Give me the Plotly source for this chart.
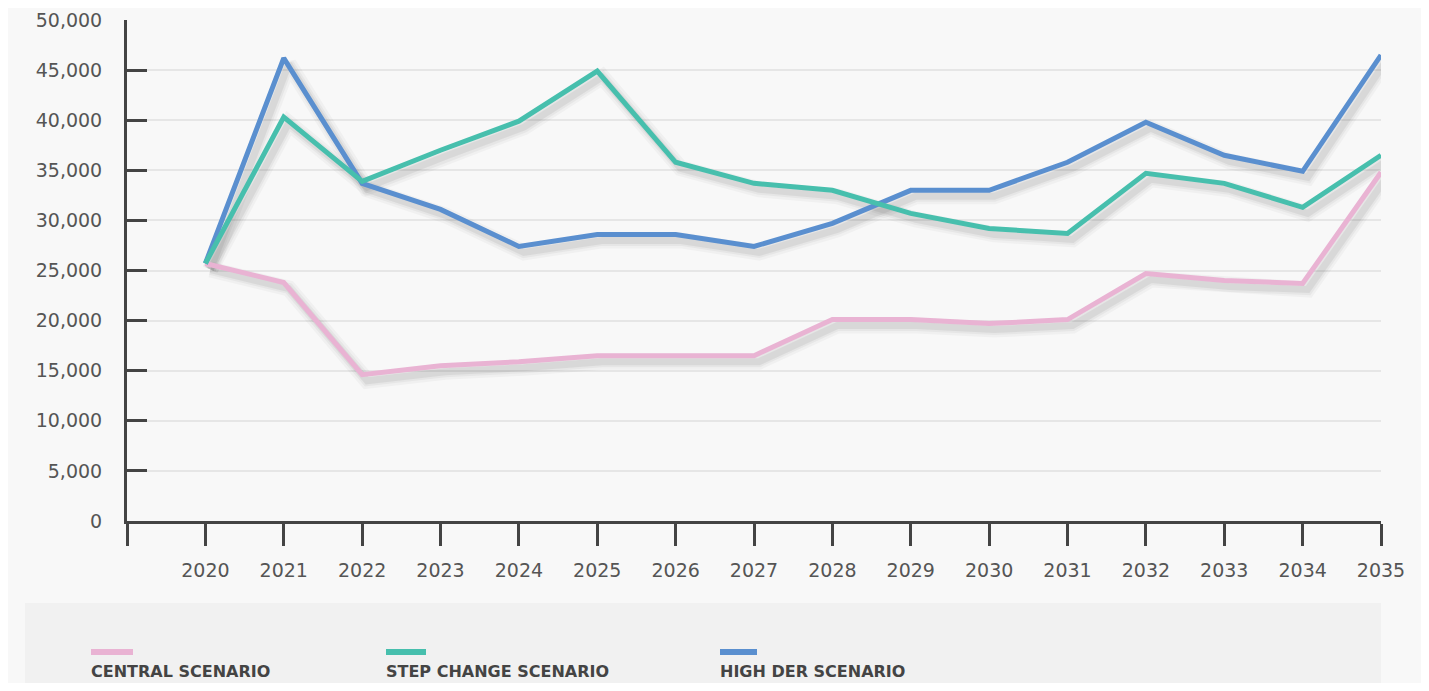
import plotly.graph_objects as go

years = list(range(2020, 2036))
year_labels = [str(y) for y in years]

central = [25700, 23800, 14600, 15500, 15900, 16500, 16500, 16500, 20100, 20100,
           19700, 20100, 24700, 24000, 23700, 34800]
step_change = [25700, 40300, 33900, 37000, 39900, 44900, 35800, 33700, 33000, 30700,
               29200, 28700, 34700, 33700, 31300, 36500]
high_der = [25700, 46200, 33700, 31100, 27400, 28600, 28600, 27400, 29700, 33000,
            33000, 35800, 39800, 36500, 34900, 46500]

series = [
    ("CENTRAL SCENARIO", central, "#e9b3d3"),
    ("HIGH DER SCENARIO", high_der, "#5a8fcf"),
    ("STEP CHANGE SCENARIO", step_change, "#47bfad"),
]

# page has an 8px body margin, so the figure is a bit smaller than the window
PAD = 8
W, H = 1429 - 2 * PAD, 691 - 2 * PAD
L, R, T, B = 127, 1381, 20, 521  # plot area in window pixels


def px(x):
    return (x - L) / (R - L)


def py(y):
    return (B - y) / (B - T)


FONT = "DejaVu Sans"
AXIS = "#444444"

fig = go.Figure()

# soft drop shadows, drawn on a slightly shifted copy of the axes
dx = 5 / ((R - L) / 16)
dy = 6 * 50000 / (B - T)
for name, vals, col in series:
    for w, a in [(16, 0.03), (11, 0.04), (7, 0.06)]:
        fig.add_trace(go.Scatter(x=years, y=vals, mode="lines", xaxis="x", yaxis="y",
                                 line=dict(color=f"rgba(0,0,0,{a})", width=w),
                                 hoverinfo="skip", showlegend=False))

for name, vals, col in series:
    fig.add_trace(go.Scatter(x=years, y=vals, mode="lines", name=name,
                             xaxis="x2", yaxis="y2",
                             line=dict(color=col, width=5), showlegend=False))

fig.update_layout(
    width=W, height=H,
    margin=dict(l=L - PAD, r=W - (R - PAD), t=T - PAD, b=H - (B - PAD)),
    paper_bgcolor="#f8f8f8",
    plot_bgcolor="rgba(0,0,0,0)",
    font=dict(family=FONT, size=19, color="#555555"),
    showlegend=False,
    xaxis=dict(range=[2019 - dx, 2035 - dx], visible=False),
    yaxis=dict(range=[dy, 50000 + dy], visible=False),
    xaxis2=dict(
        overlaying="x", anchor="y2", range=[2019, 2035],
        tickvals=[2019] + years, ticktext=[""] + year_labels,
        ticks="outside", ticklen=22, tickwidth=3, tickcolor=AXIS,
        showline=True, linewidth=3, linecolor=AXIS, automargin=False,
        showgrid=False, zeroline=False, ticklabelstandoff=8,
    ),
    yaxis2=dict(
        overlaying="y", anchor="x2", side="left", range=[0, 50000],
        tickvals=list(range(0, 50001, 5000)), tickformat=",d",
        ticks="inside", ticklen=20, tickwidth=3, tickcolor=AXIS,
        showline=True, linewidth=3, linecolor=AXIS, automargin=False,
        showgrid=True, gridcolor="#e6e6e6", gridwidth=2,
        zeroline=False, ticklabelstandoff=18,
    ),
)

# legend panel
fig.add_shape(type="rect", xref="paper", yref="paper",
              x0=px(25), x1=px(1381), y0=py(603), y1=py(700),
              fillcolor="#f1f1f1", line=dict(width=0), layer="below")

legend_pos = {"CENTRAL SCENARIO": (91, 133), "STEP CHANGE SCENARIO": (386, 426),
              "HIGH DER SCENARIO": (720, 757)}
for name, vals, col in series:
    x0, x1 = legend_pos[name]
    fig.add_shape(type="line", xref="paper", yref="paper",
                  x0=px(x0), x1=px(x1), y0=py(652), y1=py(652),
                  line=dict(color=col, width=6))
    fig.add_annotation(text=f"<b>{name}</b>", xref="paper", yref="paper",
                       x=px(x0 - 2), y=py(671), xanchor="left", yanchor="middle",
                       showarrow=False, font=dict(family=FONT, size=16, color="#444444"))

fig.write_html("out.html")
